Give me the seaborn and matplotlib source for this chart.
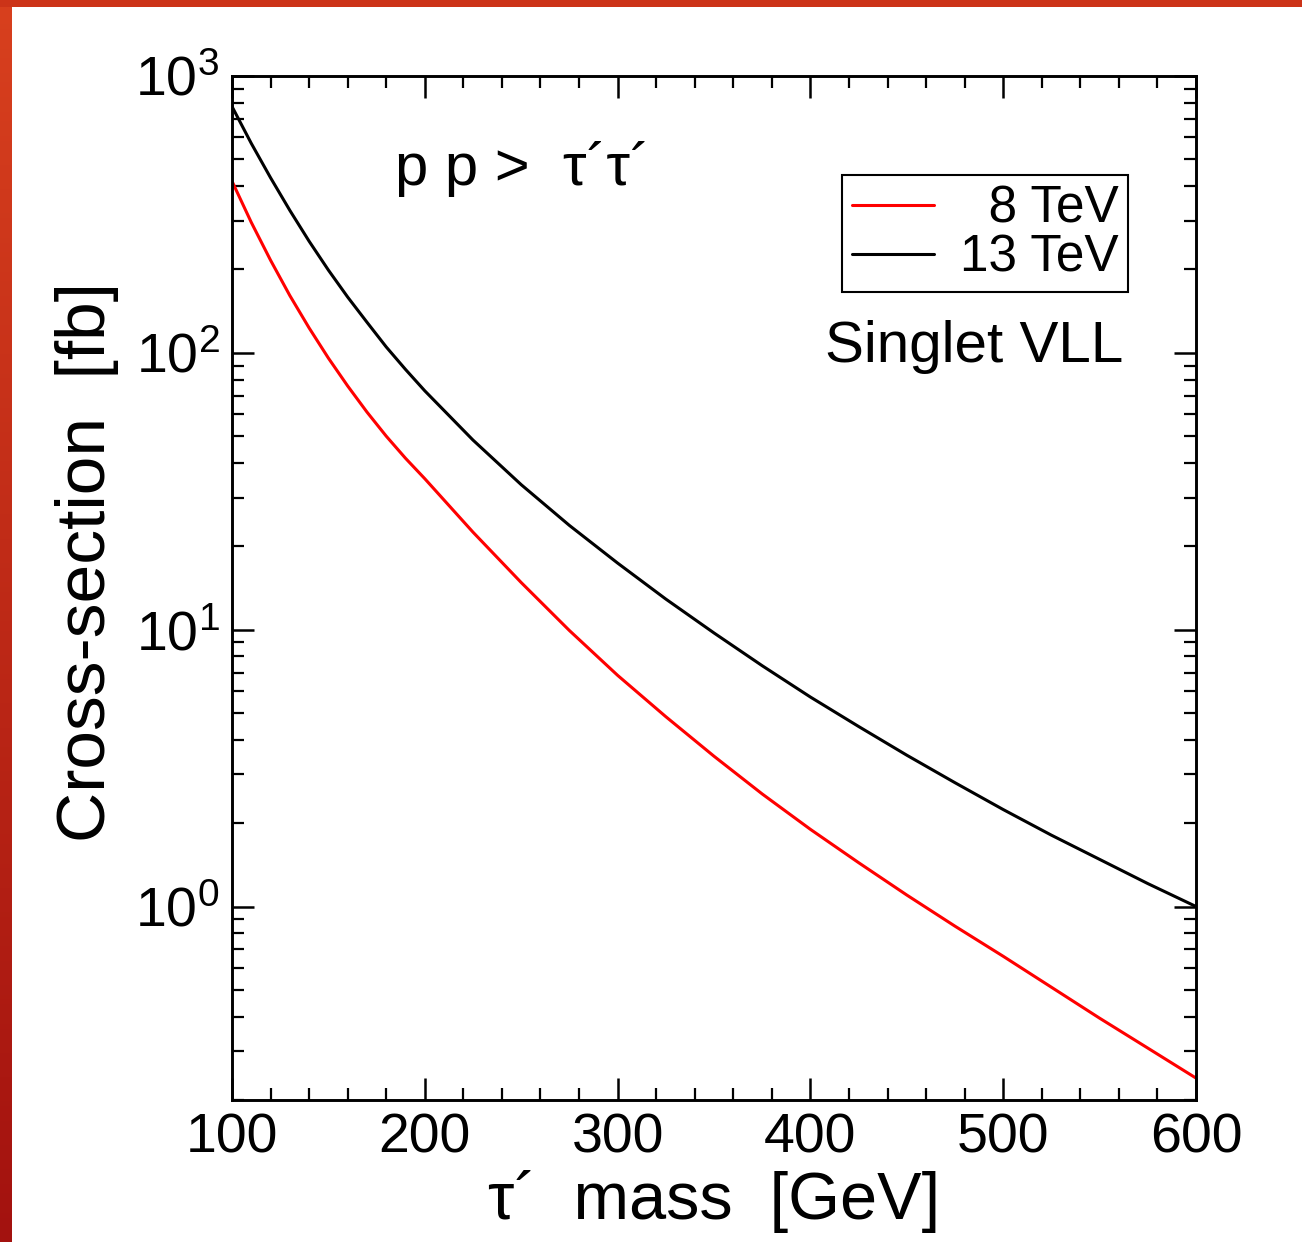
import numpy as np
import pandas as pd
import matplotlib
matplotlib.use("Agg")
import matplotlib.pyplot as plt
import seaborn as sns
from matplotlib.patches import Rectangle
from matplotlib.lines import Line2D
from matplotlib.colors import LinearSegmentedColormap
from matplotlib.ticker import LogLocator, MultipleLocator, LogFormatterSciNotation

# ---- data ----
mass = [100, 110, 120, 130, 140, 150, 160, 170, 180, 190, 200,
        225, 250, 275, 300, 325, 350, 375, 400, 425, 450, 475, 500,
        525, 550, 575, 600]
xsec_8tev = [417, 296, 216, 161, 123, 95.7, 75.9, 61.1, 50.0, 41.6, 35.1,
             22.5, 14.8, 9.93, 6.84, 4.85, 3.49, 2.55, 1.90, 1.44, 1.10, 0.849, 0.661,
             0.511, 0.395, 0.308, 0.240]
xsec_13tev = [776, 571, 429, 327, 253, 199, 159, 129, 105, 87.1, 72.9,
              48.4, 33.4, 23.8, 17.4, 12.9, 9.73, 7.41, 5.71, 4.47, 3.52, 2.80, 2.24,
              1.81, 1.48, 1.21, 1.00]
series_labels = ["8 TeV", "13 TeV"]
x_ticks = [100, 200, 300, 400, 500, 600]

sns.set_theme(style="white")
plt.rcParams["font.family"] = ["Liberation Sans", "DejaVu Sans"]
plt.rcParams["mathtext.fontset"] = "custom"
plt.rcParams["mathtext.rm"] = "Liberation Sans"
plt.rcParams["mathtext.default"] = "regular"
for k in ["text.color", "axes.labelcolor", "xtick.color", "ytick.color", "axes.edgecolor"]:
    plt.rcParams[k] = "black"

df = pd.concat([
    pd.DataFrame({"mass": mass, "xsec": xsec_8tev, "energy": series_labels[0]}),
    pd.DataFrame({"mass": mass, "xsec": xsec_13tev, "energy": series_labels[1]}),
])

W, H = 1302, 1242
fig = plt.figure(figsize=(W / 100, H / 100), dpi=100, facecolor="white")
ax = fig.add_axes([232 / W, 1 - 1100 / H, (1196 - 232) / W, (1100 - 76) / H])

sns.lineplot(data=df, x="mass", y="xsec", hue="energy",
             palette={"8 TeV": "#ff0000", "13 TeV": "black"},
             linewidth=2.2, ax=ax, legend=False, sort=True)

ax.set_yscale("log")
ax.set_xlim(100, 600)
ax.set_ylim(0.2, 1000)
ax.set_xticks(x_ticks)
ax.xaxis.set_minor_locator(MultipleLocator(20))
ax.yaxis.set_major_locator(LogLocator(base=10, numticks=10))
ax.yaxis.set_minor_locator(LogLocator(base=10, subs=np.arange(2, 10), numticks=20))
ax.yaxis.set_major_formatter(LogFormatterSciNotation())

ax.tick_params(which="both", direction="in", bottom=True, left=True,
               top=True, right=True, colors="black")
ax.tick_params(which="major", length=16, width=1.8, labelsize=40, pad=9)
ax.tick_params(which="minor", length=8.5, width=1.6)
for s in ax.spines.values():
    s.set_linewidth(2.1)
    s.set_color("black")

ax.set_xlabel("τ\u00b4  mass  [GeV]", fontsize=48)
ax.set_ylabel("Cross-section  [fb]", fontsize=50)
ax.xaxis.set_label_coords(0.5, -0.068)
ax.yaxis.set_label_coords(-0.117, 0.525)

# annotations
ax.text(0.169, 0.894, "p p >  τ\u00b4τ\u00b4", transform=ax.transAxes,
        fontsize=43, va="baseline", ha="left")
ax.text(0.615, 0.7207, "Singlet VLL", transform=ax.transAxes,
        fontsize=42, va="baseline", ha="left")

handles = [Line2D([], [], color="#ff0000", lw=2.2),
           Line2D([], [], color="black", lw=2.2)]
leg = ax.legend(handles, ["  8 TeV", "13 TeV"], loc="upper right",
                bbox_to_anchor=(0.929, 0.903), borderaxespad=0,
                fontsize=37, frameon=True, fancybox=False, edgecolor="black",
                handlelength=1.6, handletextpad=0.5, labelspacing=0.0,
                borderpad=0.18)
leg.get_frame().set_linewidth(1.5)
leg.get_frame().set_alpha(1)

# slide border
band = fig.add_axes([0, 0, 12 / W, 1])
grad = np.linspace(0, 1, 256).reshape(-1, 1)
cmap = LinearSegmentedColormap.from_list("b", ["#a3120f", "#d8401e"])
band.imshow(grad, aspect="auto", cmap=cmap, origin="lower")
band.set_axis_off()
fig.patches.append(Rectangle((0, 1 - 7 / H), 1, 7 / H, transform=fig.transFigure,
                             facecolor="#cc3318", edgecolor="none"))

fig.savefig("out.png", dpi=100, facecolor="white")
